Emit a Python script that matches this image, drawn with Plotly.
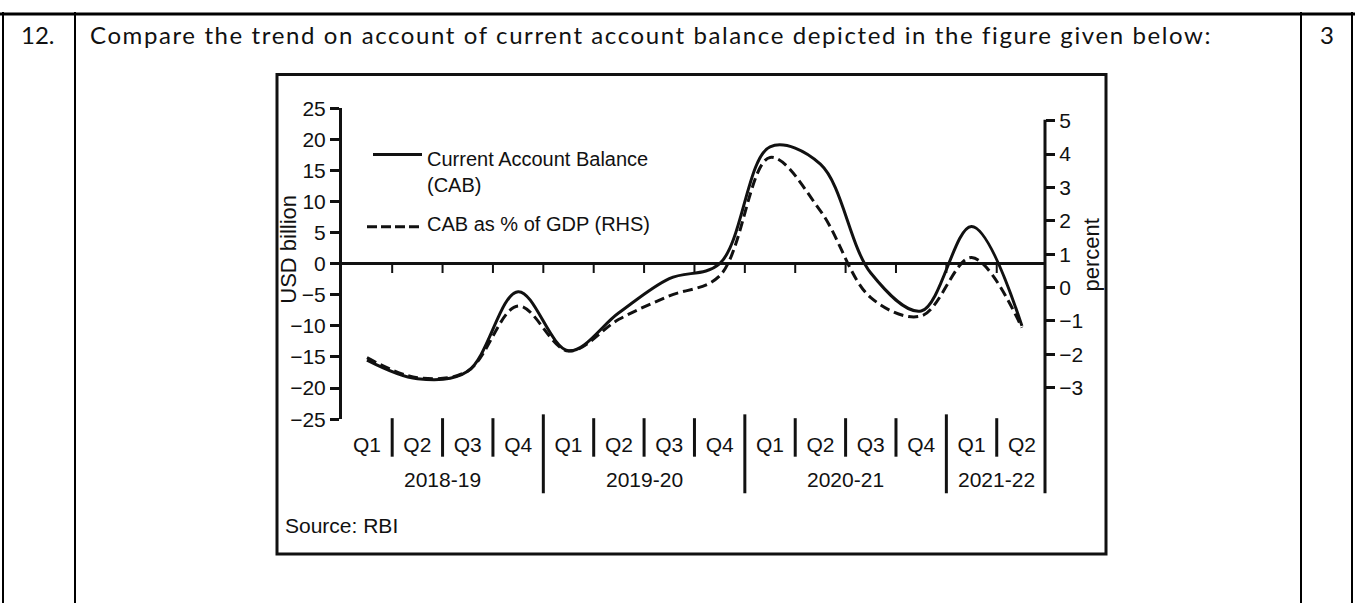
import plotly.graph_objects as go

# ---------------- data ----------------
quarters = ["Q1", "Q2", "Q3", "Q4", "Q1", "Q2", "Q3", "Q4",
            "Q1", "Q2", "Q3", "Q4", "Q1", "Q2"]
years = ["2018-19", "2019-20", "2020-21", "2021-22"]
year_of_quarter = [0, 0, 0, 0, 1, 1, 1, 1, 2, 2, 2, 2, 3, 3]
cab_usd_bn = [-15.5, -18.5, -17.3, -4.5, -14.0, -7.9, -2.4, 0.0,
              18.8, 16.0, -1.5, -7.6, 6.0, -10.0]
cab_pct_gdp = [-2.1, -2.7, -2.5, -0.55, -1.9, -0.95, -0.25, 0.35,
               3.9, 2.3, -0.3, -0.85, 0.9, -1.2]
left_ticks = [25, 20, 15, 10, 5, 0, -5, -10, -15, -20, -25]
right_ticks = [5, 4, 3, 2, 1, 0, -1, -2, -3, -4]

# ---------------- page geometry ----------------
W, H = 1355, 614


def px(x):
    return x / W


def py(y):
    return 1 - y / H


CF = "Liberation Sans, Arial, sans-serif"
FS = 20
TFS = 21
BLACK = "#111111"

x_idx = list(range(len(quarters)))

fig = go.Figure()
fig.add_trace(go.Scatter(
    x=x_idx, y=cab_usd_bn, mode="lines", name="Current Account Balance (CAB)",
    line=dict(color=BLACK, width=3, shape="spline", smoothing=1.0),
    showlegend=False, hoverinfo="skip"))
fig.add_trace(go.Scatter(
    x=x_idx, y=cab_pct_gdp, mode="lines", name="CAB as % of GDP (RHS)", yaxis="y2",
    line=dict(color=BLACK, width=3, shape="spline", smoothing=1.0, dash="10px,5px"),
    showlegend=False, hoverinfo="skip"))

# y2 range so that 5 sits at y=113 px and -4 at y=425 px
y_top_px, y_bot_px = 100, 423
r_per_px = 9 / (425 - 113)
y2_top = 5 + (113 - y_top_px) * r_per_px
y2_bot = -4 + (425 - y_bot_px) * r_per_px

fig.update_layout(
    width=W, height=H, autosize=False,
    margin=dict(l=0, r=0, t=0, b=0),
    paper_bgcolor="white", plot_bgcolor="white",
    hovermode=False,
    font=dict(family=CF, color=BLACK, size=FS),
    xaxis=dict(domain=[px(342), px(1045)], range=[-0.496, 13.458],
               tickmode="array", tickvals=x_idx, ticktext=quarters,
               ticks="", showline=False, showgrid=False, zeroline=False,
               tickfont=dict(family=CF, size=TFS, color=BLACK),
               ticklabelstandoff=11),
    yaxis=dict(domain=[py(y_bot_px), py(y_top_px)], range=[-25, 25],
               tickmode="array", tickvals=left_ticks,
               ticks="outside", ticklen=9, tickwidth=3, tickcolor=BLACK,
               showline=True, linewidth=3, linecolor=BLACK,
               showgrid=False, zeroline=True, zerolinecolor=BLACK, zerolinewidth=3,
               tickfont=dict(family=CF, size=TFS, color=BLACK)),
    yaxis2=dict(overlaying="y", side="right", anchor="x",
                range=[y2_bot, y2_top], tickmode="array", tickvals=right_ticks,
                ticks="outside", ticklen=9, tickwidth=3, tickcolor=BLACK,
                showline=False, showgrid=False, zeroline=False,
                tickfont=dict(family=CF, size=TFS, color=BLACK)),
)

shapes = []
# table lines of the question sheet
shapes.append(dict(type="line", xref="paper", yref="paper", x0=0, x1=1,
                   y0=py(2), y1=py(2), line=dict(color="black", width=3)))
for xv in [3, 75, 1301, 1352]:
    shapes.append(dict(type="line", xref="paper", yref="paper", x0=px(xv), x1=px(xv),
                       y0=py(0), y1=0, line=dict(color="black", width=2)))
# chart frame
shapes.append(dict(type="rect", xref="paper", yref="paper", x0=px(277), x1=px(1106),
                   y0=py(563), y1=py(65), line=dict(color=BLACK, width=3)))
# right axis line (extends down through the category labels)
shapes.append(dict(type="line", xref="x domain", yref="paper", x0=1, x1=1,
                   y0=py(112), y1=py(500), line=dict(color=BLACK, width=3)))
# ticks on the zero line and separators between categories
for i in range(len(quarters) - 1):
    b = i + 0.5
    shapes.append(dict(type="line", xref="x", yref="y", x0=b, x1=b, y0=0, y1=-1.5,
                       line=dict(color=BLACK, width=2)))
    if year_of_quarter[i] != year_of_quarter[i + 1]:
        y0s, y1s = 418, 500
    else:
        y0s, y1s = 422, 462
    shapes.append(dict(type="line", xref="x", yref="paper", x0=b, x1=b,
                       y0=py(y0s), y1=py(y1s), line=dict(color=BLACK, width=3)))
# legend samples
shapes.append(dict(type="line", xref="paper", yref="paper", x0=px(373), x1=px(422),
                   y0=py(148), y1=py(148), line=dict(color=BLACK, width=3)))
shapes.append(dict(type="line", xref="paper", yref="paper", x0=px(367), x1=px(420),
                   y0=py(223), y1=py(223), line=dict(color=BLACK, width=3, dash="10px,4px")))

annotations = []


def ann(text, x, y, size=FS, xanchor="center", family=CF, angle=0, xref="paper",
        align="center"):
    annotations.append(dict(text=text, x=x, y=y, xref=xref, yref="paper",
                            xanchor=xanchor, yanchor="middle", showarrow=False,
                            textangle=angle, align=align,
                            font=dict(family=family, size=size, color=BLACK)))


# question text
QF = "Lato, Open Sans, sans-serif"
ann("12.", px(38), py(23), size=24, family=QF)
ann('<span style="letter-spacing:1.6px">Compare the trend on account of current account '
    'balance depicted in the figure given below:</span>',
    px(88), py(23), size=24, xanchor="left", family=QF)
ann("3", px(1327), py(23), size=24, family=QF)

# year labels
for k, yr in enumerate(years):
    idx = [i for i, g in enumerate(year_of_quarter) if g == k]
    ann(yr, sum(idx) / len(idx), py(486), xref="x", size=TFS)

# legend text
ann("Current Account Balance<br>(CAB)", px(425), py(166), xanchor="left", align="left")
ann("CAB as % of GDP (RHS)", px(425), py(220), xanchor="left")

# axis titles and source
ann("USD billion", px(289), py(247), size=22, angle=-90)
ann("percent", px(1092), py(253), size=22, angle=-90)
ann("Source: RBI", px(283), py(533), xanchor="left", size=21)

fig.update_layout(shapes=shapes, annotations=annotations)

fig.write_html(
    "out.html",
    config={"displayModeBar": False},
    post_script=("document.documentElement.style.margin='0';"
                 "document.body.style.margin='0';"
                 "document.documentElement.style.overflow='hidden';"
                 "document.body.style.overflow='hidden';"
                 "var gd=document.querySelector('.plotly-graph-div');"
                 "gd.style.position='fixed';gd.style.top='0px';gd.style.left='0px';"),
)
